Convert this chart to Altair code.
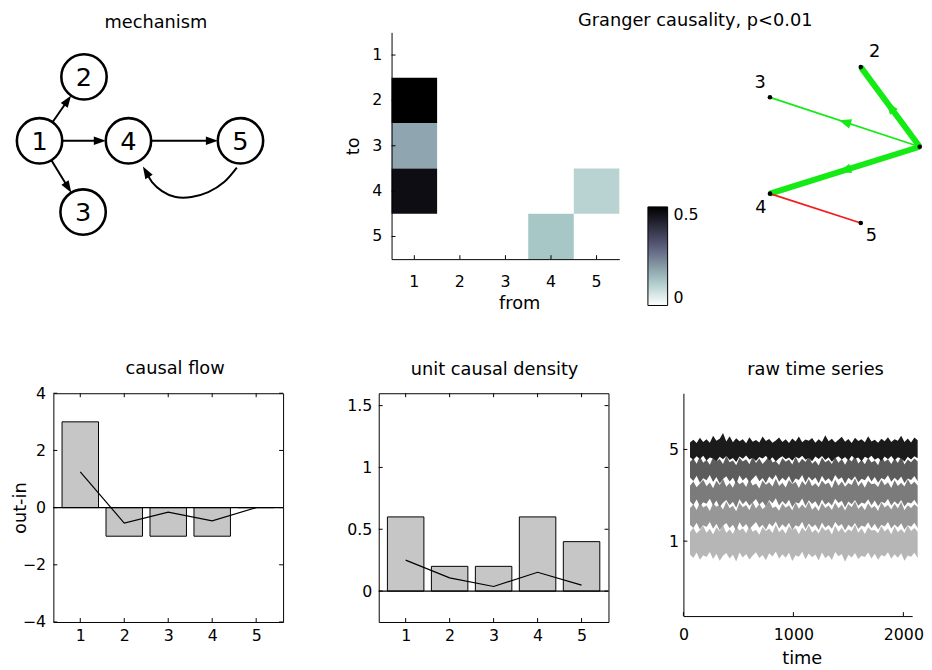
import math
import altair as alt
import pandas as pd

FONT = "DejaVu Sans"

# ------------------------------------------------------------------ data
nodes = [1, 2, 3, 4, 5]

# mechanism diagram: node layout (diagram units) and edges
mech_x = [0.0, 0.98, 0.96, 1.96, 4.43]
mech_y = [0.0, 1.41, -1.57, 0.0, 0.0]
mech_from = [1, 1, 1, 4]
mech_to = [2, 3, 4, 5]
# curved feedback edge 5 -> 4 (last point = arrow tip)
arc_x = [4.35, 4.07, 3.72, 3.35, 3.00, 2.70, 2.48, 2.28]
arc_y = [-0.59, -0.91, -1.13, -1.24, -1.24, -1.11, -0.91, -0.57]

# Granger causality matrix (non-zero entries)
gc_from = [1, 1, 1, 4, 5]
gc_to = [2, 3, 4, 5, 4]
gc_val = [0.50, 0.18, 0.47, 0.125, 0.10]

# network layout
net_x = [1.02, 0.30, -0.81, -0.81, 0.30]
net_y = [0.00, 0.95, 0.59, -0.56, -0.91]
net_lab = ["2", "3", "4", "5"]
net_lab_x = [0.47, -0.93, -0.92, 0.43]
net_lab_y = [1.13, 0.76, -0.73, -1.07]

# causal flow
flow_bar = [3, -1, -1, -1, 0]
flow_line = [1.25, -0.54, -0.16, -0.46, 0.0]
flow_yticks = [-4, -2, 0, 2, 4]

# unit causal density
ucd_bar = [0.6, 0.2, 0.2, 0.6, 0.4]
ucd_line = [0.25, 0.107, 0.037, 0.152, 0.048]
ucd_yticks = [0, 0.5, 1, 1.5]

# raw time series: upper / lower envelopes of each trace
ts_time = [60, 90, 120, 150, 180, 210, 240, 270, 300, 330, 360, 390, 420, 450, 480, 510, 540, 570, 600, 630,
           660, 690, 720, 750, 780, 810, 840, 870, 900, 930, 960, 990, 1020, 1050, 1080, 1110, 1140, 1170,
           1200, 1230, 1260, 1290, 1320, 1350, 1380, 1410, 1440, 1470, 1500, 1530, 1560, 1590, 1620, 1650,
           1680, 1710, 1740, 1770, 1800, 1830, 1860, 1890, 1920, 1950, 1980, 2010, 2040, 2070, 2100, 2130]
s5_hi = [5.30, 5.42, 5.28, 5.51, 5.33, 5.45, 5.29, 5.60, 5.38, 5.47, 5.72, 5.35, 5.58, 5.31, 5.49, 5.36, 5.44, 5.27, 5.53, 5.34,
         5.41, 5.30, 5.56, 5.37, 5.46, 5.29, 5.39, 5.52, 5.32, 5.44, 5.28, 5.48, 5.35, 5.57, 5.31, 5.43, 5.38, 5.50, 5.29, 5.45,
         5.33, 5.62, 5.36, 5.47, 5.30, 5.42, 5.55, 5.34, 5.46, 5.28, 5.51, 5.37, 5.44, 5.31, 5.58, 5.35, 5.42, 5.29, 5.47, 5.36,
         5.53, 5.32, 5.45, 5.38, 5.60, 5.33, 5.48, 5.30, 5.52, 5.40]
s5_lo = [4.66, 4.55, 4.70, 4.58, 4.73, 4.52, 4.65, 4.60, 4.48, 4.68, 4.57, 4.71, 4.54, 4.63, 4.45, 4.69, 4.59, 4.74, 4.56, 4.64,
         4.50, 4.67, 4.61, 4.72, 4.53, 4.66, 4.47, 4.62, 4.70, 4.57, 4.65, 4.51, 4.68, 4.60, 4.73, 4.55, 4.64, 4.49, 4.69, 4.58,
         4.71, 4.54, 4.66, 4.46, 4.63, 4.70, 4.56, 4.67, 4.52, 4.72, 4.59, 4.65, 4.48, 4.68, 4.61, 4.73, 4.55, 4.64, 4.50, 4.69,
         4.57, 4.71, 4.53, 4.66, 4.60, 4.47, 4.68, 4.56, 4.70, 4.62]
s4_hi = [4.45, 4.62, 4.38, 4.70, 4.42, 4.55, 4.33, 4.66, 4.48, 4.58, 4.36, 4.72, 4.44, 4.52, 4.31, 4.64, 4.47, 4.57, 4.35, 4.69,
         4.41, 4.60, 4.37, 4.53, 4.74, 4.43, 4.50, 4.32, 4.63, 4.46, 4.56, 4.34, 4.68, 4.40, 4.59, 4.45, 4.71, 4.38, 4.51, 4.30,
         4.65, 4.44, 4.54, 4.36, 4.67, 4.42, 4.58, 4.33, 4.61, 4.47, 4.73, 4.39, 4.55, 4.35, 4.64, 4.43, 4.52, 4.31, 4.69, 4.46,
         4.57, 4.37, 4.62, 4.41, 4.70, 4.34, 4.56, 4.44, 4.60, 4.48]
s4_lo = [3.78, 3.62, 3.85, 3.55, 3.74, 3.66, 3.88, 3.58, 3.80, 3.52, 3.71, 3.83, 3.60, 3.76, 3.49, 3.86, 3.64, 3.79, 3.57, 3.72,
         3.87, 3.61, 3.75, 3.54, 3.82, 3.68, 3.90, 3.59, 3.77, 3.63, 3.84, 3.51, 3.73, 3.67, 3.89, 3.56, 3.81, 3.65, 3.78, 3.53,
         3.85, 3.62, 3.74, 3.58, 3.88, 3.69, 3.79, 3.50, 3.76, 3.64, 3.83, 3.57, 3.72, 3.66, 3.86, 3.60, 3.80, 3.55, 3.75, 3.68,
         3.87, 3.59, 3.77, 3.63, 3.82, 3.54, 3.73, 3.67, 3.84, 3.61]
s3_hi = [3.42, 3.60, 3.35, 3.51, 3.68, 3.39, 3.56, 3.31, 3.63, 3.45, 3.72, 3.37, 3.54, 3.33, 3.66, 3.48, 3.58, 3.36, 3.70, 3.43,
         3.52, 3.30, 3.64, 3.46, 3.57, 3.38, 3.73, 3.41, 3.55, 3.34, 3.67, 3.49, 3.59, 3.32, 3.62, 3.44, 3.71, 3.40, 3.53, 3.35,
         3.65, 3.47, 3.56, 3.31, 3.69, 3.42, 3.60, 3.37, 3.54, 3.45, 3.74, 3.39, 3.58, 3.33, 3.63, 3.48, 3.51, 3.36, 3.68, 3.44,
         3.57, 3.32, 3.66, 3.41, 3.55, 3.38, 3.70, 3.46, 3.59, 3.43]
s3_lo = [2.74, 2.58, 2.82, 2.52, 2.70, 2.63, 2.85, 2.55, 2.77, 2.49, 2.68, 2.80, 2.57, 2.72, 2.46, 2.83, 2.61, 2.76, 2.54, 2.69,
         2.84, 2.59, 2.73, 2.51, 2.79, 2.65, 2.87, 2.56, 2.75, 2.60, 2.81, 2.48, 2.70, 2.64, 2.86, 2.53, 2.78, 2.62, 2.74, 2.50,
         2.82, 2.59, 2.71, 2.55, 2.85, 2.66, 2.76, 2.47, 2.73, 2.61, 2.80, 2.54, 2.69, 2.63, 2.83, 2.57, 2.77, 2.52, 2.72, 2.65,
         2.84, 2.56, 2.74, 2.60, 2.79, 2.51, 2.70, 2.64, 2.81, 2.58]
s2_hi = [2.44, 2.61, 2.36, 2.70, 2.47, 2.56, 2.32, 2.65, 2.50, 2.59, 2.38, 2.73, 2.43, 2.54, 2.30, 2.67, 2.48, 2.58, 2.35, 2.71,
         2.42, 2.62, 2.39, 2.53, 2.75, 2.45, 2.51, 2.33, 2.64, 2.46, 2.57, 2.34, 2.69, 2.41, 2.60, 2.44, 2.72, 2.37, 2.52, 2.31,
         2.66, 2.45, 2.55, 2.36, 2.68, 2.43, 2.59, 2.34, 2.62, 2.48, 2.74, 2.40, 2.56, 2.35, 2.65, 2.44, 2.53, 2.32, 2.70, 2.47,
         2.58, 2.38, 2.63, 2.42, 2.71, 2.35, 2.57, 2.45, 2.61, 2.49]
s2_lo = [1.72, 1.57, 1.80, 1.51, 1.69, 1.62, 1.84, 1.54, 1.76, 1.48, 1.67, 1.79, 1.56, 1.71, 1.45, 1.82, 1.60, 1.75, 1.53, 1.68,
         1.83, 1.58, 1.72, 1.50, 1.78, 1.64, 1.86, 1.55, 1.74, 1.59, 1.80, 1.47, 1.69, 1.63, 1.85, 1.52, 1.77, 1.61, 1.73, 1.49,
         1.81, 1.58, 1.70, 1.54, 1.84, 1.65, 1.75, 1.46, 1.72, 1.60, 1.79, 1.53, 1.68, 1.62, 1.82, 1.56, 1.76, 1.51, 1.71, 1.64,
         1.83, 1.55, 1.73, 1.59, 1.78, 1.50, 1.69, 1.63, 1.80, 1.57]
s1_hi = [1.40, 1.58, 1.33, 1.49, 1.66, 1.37, 1.54, 1.29, 1.61, 1.43, 1.70, 1.35, 1.52, 1.31, 1.64, 1.46, 1.56, 1.34, 1.68, 1.41,
         1.50, 1.28, 1.62, 1.44, 1.55, 1.36, 1.71, 1.39, 1.53, 1.32, 1.65, 1.47, 1.57, 1.30, 1.60, 1.42, 1.69, 1.38, 1.51, 1.33,
         1.63, 1.45, 1.54, 1.29, 1.67, 1.40, 1.58, 1.35, 1.52, 1.43, 1.72, 1.37, 1.56, 1.31, 1.61, 1.46, 1.49, 1.34, 1.66, 1.42,
         1.55, 1.30, 1.64, 1.39, 1.53, 1.36, 1.68, 1.44, 1.57, 1.41]
s1_lo = [0.42, 0.26, 0.50, 0.19, 0.38, 0.31, 0.53, 0.22, 0.45, 0.14, 0.36, 0.48, 0.24, 0.41, 0.11, 0.51, 0.29, 0.44, 0.20, 0.37,
         0.52, 0.27, 0.40, 0.17, 0.47, 0.33, 0.55, 0.23, 0.43, 0.28, 0.49, 0.13, 0.39, 0.32, 0.54, 0.21, 0.46, 0.30, 0.42, 0.16,
         0.50, 0.25, 0.38, 0.18, 0.53, 0.34, 0.44, 0.10, 0.41, 0.29, 0.48, 0.22, 0.36, 0.31, 0.51, 0.24, 0.45, 0.19, 0.40, 0.33,
         0.52, 0.23, 0.43, 0.28, 0.47, 0.15, 0.37, 0.32, 0.49, 0.26]
raw_hi = [s1_hi, s2_hi, s3_hi, s4_hi, s5_hi]
raw_lo = [s1_lo, s2_lo, s3_lo, s4_lo, s5_lo]
raw_colors = ["#b6b6b6", "#979797", "#7b7b7b", "#5c5c5c", "#1b1b1b"]
raw_xticks = [0, 1000, 2000]
raw_yticks = [1, 5]

# ------------------------------------------------------------------ layout
TOP_H = 230
MECH_W, HEAT_W, NET_W, TOP_SP = 208, 231, 172, 135
FLOW_W, UCD_W, RAW_W = 233, 233, 232
BOT_H, RAW_H = 232, 226
SP1, SP2 = 97, 76
ROW_SP = 136 + TOP_H
TL = 4  # inner tick length

MPX = 46.0  # mechanism px per unit
mx_lo = 14 / MPX
mxs = alt.Scale(domain=[mx_lo, mx_lo + MECH_W / MPX], zero=False, nice=False)
my_hi = 110 / MPX
mys = alt.Scale(domain=[my_hi - TOP_H / MPX, my_hi], zero=False, nice=False)

NPX, NPY = 83.0, 85.0
nx_lo = -85 / NPX
nxs = alt.Scale(domain=[nx_lo, nx_lo + NET_W / NPX], zero=False, nice=False)
ny_hi = 116 / NPY
nys = alt.Scale(domain=[ny_hi - TOP_H / NPY, ny_hi], zero=False, nice=False)

ARROW = "M0,-1L0.7,1L-0.7,1Z"

# ------------------------------------------------------------------ mechanism panel
R = 23 / MPX
segs, heads = [], []
for a, b in zip(mech_from, mech_to):
    x0, y0 = mech_x[a - 1], mech_y[a - 1]
    x1, y1 = mech_x[b - 1], mech_y[b - 1]
    d = math.hypot(x1 - x0, y1 - y0)
    ux, uy = (x1 - x0) / d, (y1 - y0) / d
    tx, ty = x1 - R * ux, y1 - R * uy
    segs.append({"x": x0 + R * ux, "y": y0 + R * uy, "x2": tx - 8 / MPX * ux, "y2": ty - 8 / MPX * uy})
    heads.append({"x": tx - 6 / MPX * ux, "y": ty - 6 / MPX * uy,
                  "ang": math.degrees(math.atan2(ux, uy)) % 360})
tipx, tipy = arc_x[-1], arc_y[-1]
d = math.hypot(tipx - arc_x[-2], tipy - arc_y[-2])
ux, uy = (tipx - arc_x[-2]) / d, (tipy - arc_y[-2]) / d
arc_pts = [{"i": i, "x": x, "y": y} for i, (x, y) in enumerate(zip(arc_x[:-1], arc_y[:-1]))]
arc_pts.append({"i": len(arc_pts), "x": tipx - 10 / MPX * ux, "y": tipy - 10 / MPX * uy})
heads.append({"x": tipx - 6 / MPX * ux, "y": tipy - 6 / MPX * uy,
              "ang": math.degrees(math.atan2(ux, uy)) % 360})

mnode = pd.DataFrame({"x": mech_x, "y": mech_y, "lab": [str(n) for n in nodes]})


def mxy():
    return dict(x=alt.X("x:Q", scale=mxs, axis=None), y=alt.Y("y:Q", scale=mys, axis=None))


mech = alt.layer(
    alt.Chart(pd.DataFrame(segs)).mark_rule(color="black", strokeWidth=2).encode(
        **mxy(), x2="x2:Q", y2="y2:Q"),
    alt.Chart(pd.DataFrame(arc_pts)).mark_line(color="black", strokeWidth=2, interpolate="natural").encode(
        **mxy(), order="i:Q"),
    alt.Chart(pd.DataFrame(heads)).mark_point(shape=ARROW, filled=True, color="black", size=150, opacity=1).encode(
        **mxy(), angle=alt.Angle("ang:Q", scale=None)),
    alt.Chart(mnode).mark_point(shape="circle", filled=True, fill="white", stroke="black", strokeWidth=2.6,
                                size=2116, opacity=1).encode(**mxy()),
    alt.Chart(mnode).mark_text(font=FONT, fontSize=26, color="black", baseline="middle", dy=1).encode(
        **mxy(), text="lab:N"),
).properties(width=MECH_W, height=TOP_H,
             title=alt.TitleParams("mechanism", offset=4, baseline="alphabetic", dy=18))

# ------------------------------------------------------------------ heatmap panel
heat_df = pd.DataFrame({"from": gc_from, "to": gc_to, "val": gc_val})
hxs = alt.Scale(domain=nodes, paddingInner=0, paddingOuter=0)
hys = alt.Scale(domain=nodes, paddingInner=0, paddingOuter=0)
hxa = alt.Axis(title="from", ticks=False, labelPadding=15, labelAngle=0, titleX=HEAT_W / 2 + 14, titleY=50,
               titleBaseline="alphabetic")
hya = alt.Axis(title="to", ticks=False, labelPadding=10, titleX=-34, titleY=TOP_H / 2,
               titleBaseline="alphabetic", titleAngle=270)
heat = alt.layer(
    alt.Chart(heat_df).mark_rect().encode(
        x=alt.X("from:O", scale=hxs, axis=hxa),
        y=alt.Y("to:O", scale=hys, axis=hya),
        color=alt.Color("val:Q",
                        scale=alt.Scale(domain=[0, 0.125, 0.3125, 0.5], interpolate="rgb",
                                        range=["#ffffff", "#a7c7c7", "#545474", "#000000"]),
                        legend=alt.Legend(orient="none", legendX=260, legendY=177, direction="vertical",
                                          gradientLength=100, gradientThickness=20, values=[0, 0.5],
                                          format="~g", title=None, gradientStrokeColor="black",
                                          gradientStrokeWidth=1, labelOffset=6, labelFontSize=16,
                                          labelFont=FONT, labelColor="black")),
    ),
    alt.Chart(pd.DataFrame({"from": nodes})).mark_rule(color="black").encode(
        x=alt.X("from:O", scale=hxs, axis=hxa), y=alt.value(TOP_H), y2=alt.value(TOP_H - TL)),
    alt.Chart(pd.DataFrame({"to": nodes})).mark_rule(color="black").encode(
        y=alt.Y("to:O", scale=hys, axis=hya), x=alt.value(0), x2=alt.value(TL)),
).properties(width=HEAT_W, height=TOP_H)

# ------------------------------------------------------------------ network panel
vals = {(f, t): v for f, t, v in zip(gc_from, gc_to, gc_val)}
edges = []
for (f, t), v in vals.items():
    if (t, f) in vals:
        if f < t:
            edges.append({"a": f, "b": t, "val": max(v, vals[(t, f)]), "kind": "bi"})
    else:
        edges.append({"a": f, "b": t, "val": v, "kind": "uni"})
erows, arows = [], []
for e in edges:
    x0, y0 = net_x[e["a"] - 1], net_y[e["a"] - 1]
    x1, y1 = net_x[e["b"] - 1], net_y[e["b"] - 1]
    erows.append({"x": x0, "y": y0, "x2": x1, "y2": y1, "val": e["val"], "kind": e["kind"]})
    if e["kind"] == "uni":
        arows.append({"x": (x0 + x1) / 2, "y": (y0 + y1) / 2,
                      "ang": math.degrees(math.atan2((x1 - x0) * NPX, (y1 - y0) * NPY)) % 360})
edf = pd.DataFrame(erows)
ndf = pd.DataFrame({"x": net_x, "y": net_y})
ldf = pd.DataFrame({"x": net_lab_x, "y": net_lab_y, "lab": net_lab})


def nxy():
    return dict(x=alt.X("x:Q", scale=nxs, axis=None), y=alt.Y("y:Q", scale=nys, axis=None))


sw = alt.StrokeWidth("val:Q", scale=alt.Scale(type="threshold", domain=[0.3], range=[1.8, 6]), legend=None)
GREEN, RED = "#14ea14", "#f21c1c"
net = alt.layer(
    alt.Chart(edf).transform_filter("datum.kind == 'uni'").mark_rule(color=GREEN).encode(
        **nxy(), x2="x2:Q", y2="y2:Q", strokeWidth=sw),
    alt.Chart(edf).transform_filter("datum.kind == 'bi'").mark_rule(color=RED).encode(
        **nxy(), x2="x2:Q", y2="y2:Q", strokeWidth=sw),
    alt.Chart(pd.DataFrame(arows)).mark_point(shape="M0,-1L0.8,1L-0.8,1Z", filled=True, color=GREEN,
                                              size=150, opacity=1).encode(
        **nxy(), angle=alt.Angle("ang:Q", scale=None)),
    alt.Chart(ndf).mark_point(shape="circle", filled=True, color="black", size=22, opacity=1).encode(**nxy()),
    alt.Chart(ldf).mark_text(font=FONT, fontSize=18, color="black", baseline="middle").encode(
        **nxy(), text="lab:N"),
).properties(width=NET_W, height=TOP_H,
             title=alt.TitleParams("Granger causality, p<0.01", dx=-144, offset=9, baseline="alphabetic", dy=21))


# ------------------------------------------------------------------ bar panels
def box_ticks(xcol, xvals, xs, xa, ycol, yvals, ys, ya, w, h):
    xd = pd.DataFrame({xcol: xvals})
    yd = pd.DataFrame({ycol: yvals})
    m = dict(color="black", strokeWidth=1)
    return [
        alt.Chart(xd).mark_rule(**m).encode(x=alt.X(f"{xcol}:Q", scale=xs, axis=xa),
                                            y=alt.value(h), y2=alt.value(h - TL)),
        alt.Chart(xd).mark_rule(**m).encode(x=alt.X(f"{xcol}:Q", scale=xs, axis=xa),
                                            y=alt.value(0), y2=alt.value(TL)),
        alt.Chart(yd).mark_rule(**m).encode(y=alt.Y(f"{ycol}:Q", scale=ys, axis=ya),
                                            x=alt.value(0), x2=alt.value(TL)),
        alt.Chart(yd).mark_rule(**m).encode(y=alt.Y(f"{ycol}:Q", scale=ys, axis=ya),
                                            x=alt.value(w - TL), x2=alt.value(w)),
    ]


def bar_panel(bars, line, ydom, yticks, title, ytitle, tdx, tdy, w):
    df = pd.DataFrame({"n": nodes, "bar": bars, "line": line})
    xs = alt.Scale(domain=[0.5, 5.5], zero=False, nice=False)
    ys = alt.Scale(domain=ydom, zero=False, nice=False)
    xa = alt.Axis(values=nodes, ticks=False, domain=False, labelPadding=6, title=None, format="d")
    if ytitle:
        ya = alt.Axis(values=yticks, ticks=False, domain=False, labelPadding=8, format="~g", title=ytitle,
                      titleX=-28, titleY=BOT_H / 2, titleBaseline="alphabetic", titleAngle=270)
    else:
        ya = alt.Axis(values=yticks, ticks=False, domain=False, labelPadding=7, format="~g", title=None)
    X = alt.X("n:Q", scale=xs, axis=xa)
    layers = [
        alt.Chart(df).mark_bar(size=37, color="#c6c6c6", stroke="black", strokeWidth=1).encode(
            x=X, y=alt.Y("bar:Q", scale=ys, axis=ya)),
        alt.Chart(pd.DataFrame({"bar": [0]})).mark_rule(color="black", strokeWidth=1.2).encode(
            y=alt.Y("bar:Q", scale=ys, axis=ya)),
        alt.Chart(df).mark_line(color="black", strokeWidth=1.2).encode(
            x=X, y=alt.Y("line:Q", scale=ys, axis=ya)),
    ] + box_ticks("n", nodes, xs, xa, "bar", yticks, ys, ya, w, BOT_H)
    return alt.layer(*layers).properties(
        width=w, height=BOT_H, view=alt.ViewBackground(stroke="black", strokeWidth=1),
        title=alt.TitleParams(title, offset=17, baseline="alphabetic", dx=tdx, dy=tdy))


flow = bar_panel(flow_bar, flow_line, [-4, 4], flow_yticks, "causal flow", "out-in", 7, 23, FLOW_W)
ucd = bar_panel(ucd_bar, ucd_line, [-0.25, 1.6], ucd_yticks, "unit causal density", None, 1, 17, UCD_W)

# ------------------------------------------------------------------ raw time series
RPY = 23.25
ry_hi = 5 + 57 / RPY
rys = alt.Scale(domain=[ry_hi - RAW_H / RPY, ry_hi], zero=False, nice=False)
rxs = alt.Scale(domain=[0, 2080], zero=False, nice=False)
rxa = alt.Axis(values=raw_xticks, ticks=False, labelPadding=11, title="time", format="d", labelFlush=False,
               titleX=RAW_W / 2 + 4, titleY=48, titleBaseline="alphabetic")
rya = alt.Axis(values=raw_yticks, ticks=False, labelPadding=5, title=None, format="d")
raw_rows = []
for k in range(5):
    for t, hi, lo in zip(ts_time, raw_hi[k], raw_lo[k]):
        raw_rows.append({"t": t, "hi": hi, "lo": lo, "s": k + 1})
raw_df = pd.DataFrame(raw_rows)
raw_layers = []
for k in range(5):
    raw_layers.append(
        alt.Chart(raw_df).transform_filter(f"datum.s == {k + 1}").mark_area(
            color=raw_colors[k], opacity=1, interpolate="linear").encode(
            x=alt.X("t:Q", scale=rxs, axis=rxa), y=alt.Y("hi:Q", scale=rys, axis=rya), y2="lo:Q"))
raw_layers += [
    alt.Chart(pd.DataFrame({"t": raw_xticks})).mark_rule(color="black").encode(
        x=alt.X("t:Q", scale=rxs, axis=rxa), y=alt.value(RAW_H), y2=alt.value(RAW_H - TL)),
    alt.Chart(pd.DataFrame({"hi": raw_yticks})).mark_rule(color="black").encode(
        y=alt.Y("hi:Q", scale=rys, axis=rya), x=alt.value(0), x2=alt.value(TL)),
]
raw = alt.layer(*raw_layers).properties(
    width=RAW_W, height=RAW_H,
    title=alt.TitleParams("raw time series", offset=21, baseline="alphabetic", dx=18, dy=20))

# ------------------------------------------------------------------ assemble
top = alt.hconcat(mech, heat, net, spacing=TOP_SP, bounds="flush").resolve_scale(
    color="independent", strokeWidth="independent").resolve_legend(color="independent")
bottom = alt.hconcat(flow, alt.hconcat(ucd, raw, spacing=SP2, bounds="flush"), spacing=SP1, bounds="flush")
chart = alt.vconcat(top, bottom, spacing=ROW_SP, bounds="flush").resolve_scale(
    color="independent", strokeWidth="independent").resolve_legend(color="independent").properties(
    padding={"left": 3, "top": 0, "right": 0, "bottom": 0}
).configure_view(strokeWidth=0).configure_axis(
    labelFont=FONT, titleFont=FONT, labelFontSize=16, titleFontSize=18, titleFontWeight="normal",
    labelColor="black", titleColor="black", domainColor="black", domainWidth=1, grid=False
).configure_title(font=FONT, fontSize=18, fontWeight="normal", color="black", anchor="middle")

chart.save("out.html", embed_options={"renderer": "svg", "actions": False})
